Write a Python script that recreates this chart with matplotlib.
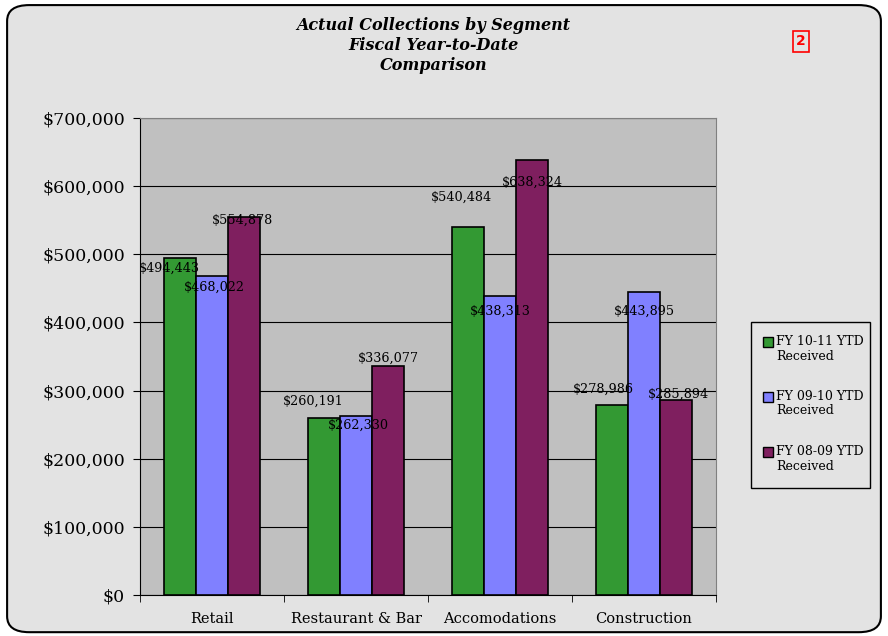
import matplotlib
matplotlib.use("Agg")
import matplotlib.pyplot as plt
import numpy as np
from matplotlib.patches import FancyBboxPatch, Rectangle

# data
categories = ["Retail", "Restaurant & Bar", "Accomodations", "Construction"]
series_names = ["FY 10-11 YTD\nReceived", "FY 09-10 YTD\nReceived", "FY 08-09 YTD\nReceived"]
fy1011 = [494443, 260191, 540484, 278986]
fy0910 = [468022, 262330, 438313, 443895]
fy0809 = [554878, 336077, 638324, 285894]
yticks = [0, 100000, 200000, 300000, 400000, 500000, 600000, 700000]

colors = ["#339933", "#8080FF", "#7F1F5F"]
# label offsets in pixels (dx, dy) from bar top, mimicking excel placement
label_off = [
    [(-11, -10), (-11, 16), (-7, 29), (-9, 16)],
    [(2, -11), (2, -9), (0, -15), (0, -19)],
    [(-1, -3), (0, 8), (0, -22), (2, 6)],
]

plt.rcParams["font.family"] = ["DejaVu Serif"]

fig = plt.figure(figsize=(8.88, 6.36), dpi=100)
fig.patch.set_facecolor("white")
frame = FancyBboxPatch((0.008, 0.006), 0.984, 0.986, boxstyle="round,pad=0,rounding_size=0.025",
                       transform=fig.transFigure, facecolor="#E3E3E3", edgecolor="black", lw=1.5,
                       zorder=-10)
fig.patches.append(frame)

ax = fig.add_axes([0.1577, 0.0645, 0.6486, 0.75])
ax.set_facecolor("#C0C0C0")

x = np.arange(len(categories))
w = 0.222
all_series = [fy1011, fy0910, fy0809]
for i, vals in enumerate(all_series):
    bars = ax.bar(x + (i - 1) * w, vals, w, color=colors[i], edgecolor="black", lw=1.2, zorder=3)
    for j, b in enumerate(bars):
        ax.annotate("${:,}".format(vals[j]), (b.get_x() + b.get_width() / 2, b.get_height()),
                    xytext=label_off[i][j], textcoords="offset pixels",
                    ha="center", va="center", fontsize=9.2, zorder=5)

ax.set_xlim(-0.5, len(categories) - 0.5)
ax.set_ylim(0, 700000)
ax.set_yticks(yticks)
ax.set_yticklabels(["${:,}".format(v) for v in yticks], fontsize=12.5)
ax.yaxis.grid(True, color="black", lw=0.8, zorder=1)
ax.set_axisbelow(True)
ax.set_xticks(x)
ax.set_xticklabels(categories, fontsize=10.5)
ax.set_xticks(np.arange(len(categories) + 1) - 0.5, minor=True)
ax.tick_params(axis="x", which="major", length=0, pad=12)
ax.tick_params(axis="x", which="minor", length=5, direction="out")
ax.tick_params(axis="y", length=5, direction="out", pad=6)
for s in ["top", "right"]:
    ax.spines[s].set_color("#808080")
    ax.spines[s].set_linewidth(0.8)
ax.spines["left"].set_color("black")
ax.spines["bottom"].set_color("black")

fig.text(0.488, 0.974, "Actual Collections by Segment\nFiscal Year-to-Date\nComparison",
         ha="center", va="top", fontsize=11.5, fontweight="bold", style="italic", linespacing=1.25)

fig.text(0.902, 0.935, "2", ha="center", va="center", color="red", fontsize=10, fontweight="bold",
         family="DejaVu Sans",
         bbox=dict(boxstyle="square,pad=0.25", facecolor="none", edgecolor="red", lw=1.2))

# legend drawn by hand so the swatch sits on the first text line
fig.patches.append(Rectangle((751 / 888, 1 - 488 / 636), 119 / 888, 166 / 636,
                             transform=fig.transFigure, facecolor="#E3E3E3",
                             edgecolor="black", lw=1.0))
for i, name in enumerate(series_names):
    ytop = 1 - (336 + i * 55) / 636
    fig.patches.append(Rectangle((763 / 888, ytop - 11 / 636), 10 / 888, 10 / 636,
                                 transform=fig.transFigure, facecolor=colors[i],
                                 edgecolor="black", lw=1.0))
    fig.text(776 / 888, ytop + 1 / 636, name, ha="left", va="top", fontsize=9,
             linespacing=1.15)

fig.savefig("out.png", dpi=100, facecolor=fig.get_facecolor())
